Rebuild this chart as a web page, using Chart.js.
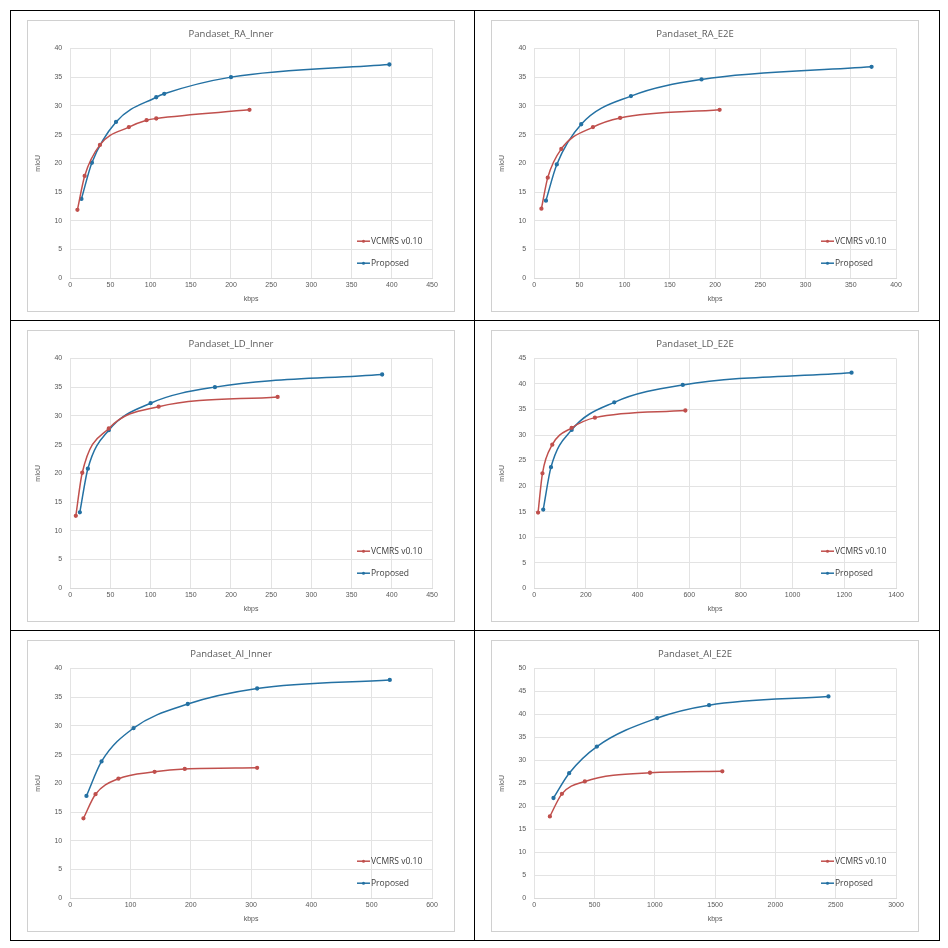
<!DOCTYPE html>
<html><head><meta charset="utf-8">
<script src="https://cdn.jsdelivr.net/npm/chart.js@4.4.1/dist/chart.umd.min.js"></script>
<style>
body{margin:0;background:#fff;font-family:"Open Sans",sans-serif}
.cell{position:absolute;border:1px solid #000;box-sizing:border-box}
.panel{position:absolute;border:1px solid #d0d0d0;box-sizing:border-box;background:#fff}
</style></head><body>
<script>
const titles=["Pandaset_RA_Inner","Pandaset_RA_E2E","Pandaset_LD_Inner","Pandaset_LD_E2E","Pandaset_AI_Inner","Pandaset_AI_E2E"];
const seriesNames=["VCMRS v0.10","Proposed"];
const xMax=[450,400,450,1400,600,3000];
const xStep=[50,50,50,200,100,500];
const yMax=[40,40,40,45,40,50];
const vcmrsX=[[9,18,37,73,95,107,223],[8,15,30,65,95,205],[7,15,48,110,258],[15,32,70,145,235,585],[22,42,80,140,190,310],[130,230,420,960,1560]];
const vcmrsY=[[11.9,17.8,23.2,26.3,27.5,27.8,29.3],[12.1,17.5,22.5,26.3,27.9,29.3],[12.6,20.1,27.8,31.6,33.3],[14.8,22.5,28.1,31.4,33.4,34.8],[13.9,18.1,20.8,22,22.5,22.7],[17.8,22.7,25.4,27.3,27.6]];
const propX=[[14,27,57,107,117,200,397],[13,25,52,107,185,373],[12,22,48,100,180,388],[35,65,145,310,575,1228],[27,52,105,195,310,530],[160,290,520,1020,1450,2440]];
const propY=[[13.8,20.1,27.2,31.5,32.1,35,37.2],[13.5,19.8,26.8,31.7,34.6,36.8],[13.2,20.8,27.5,32.2,35,37.2],[15.4,23.7,31,36.4,39.8,42.2],[17.8,23.8,29.6,33.8,36.5,38],[21.8,27.2,33,39.2,42,43.9]];
const colors=["#C0504D","#2471A3"];

const legendPlugin={id:'lg',afterDraw(c){const a=c.chartArea,ctx=c.ctx;ctx.save();
 ctx.font='8.5px "Open Sans"';ctx.textBaseline='middle';
 seriesNames.forEach((n,i)=>{const y=a.bottom-(i===0?37:15),x=a.right-62;
  ctx.strokeStyle=colors[i];ctx.lineWidth=1.5;ctx.beginPath();ctx.moveTo(x-13,y);ctx.lineTo(x,y);ctx.stroke();
  ctx.fillStyle=colors[i];ctx.beginPath();ctx.arc(x-6.5,y,1.5,0,7);ctx.fill();
  ctx.fillStyle='#404040';ctx.fillText(n,x+1,y);});
 ctx.restore();}};

const cols=[10,474],rows=[10,320,630];
for(let k=0;k<6;k++){
 const cx=cols[k%2],cy=rows[Math.floor(k/2)];
 const cell=document.createElement('div');cell.className='cell';
 Object.assign(cell.style,{left:cx+'px',top:cy+'px',width:(k%2?466:465)+'px',height:'311px'});
 document.body.appendChild(cell);
 const p=document.createElement('div');p.className='panel';
 Object.assign(p.style,{left:(cx+17)+'px',top:(cy+10)+'px',width:'428px',height:'292px'});
 document.body.appendChild(p);
 const cv=document.createElement('canvas');p.appendChild(cv);
 const mk=(xs,ys)=>xs.map((x,i)=>({x,y:ys[i]}));
 new Chart(cv,{type:'scatter',data:{datasets:[
  {label:seriesNames[0],data:mk(vcmrsX[k],vcmrsY[k]),showLine:true,borderColor:colors[0],backgroundColor:colors[0],borderWidth:1.5,pointRadius:1.4,tension:0.4,cubicInterpolationMode:'monotone'},
  {label:seriesNames[1],data:mk(propX[k],propY[k]),showLine:true,borderColor:colors[1],backgroundColor:colors[1],borderWidth:1.5,pointRadius:1.4,tension:0.4,cubicInterpolationMode:'monotone'}]},
  options:{responsive:true,maintainAspectRatio:false,animation:false,
   layout:{padding:{left:2,right:22,top:2,bottom:4}},
   plugins:{legend:{display:false},tooltip:{enabled:false},
    title:{display:true,text:titles[k],color:'#595959',font:{family:'Open Sans',size:9.5,weight:'normal'},padding:{top:6,bottom:8}}},
   scales:{x:{type:'linear',min:0,max:xMax[k],ticks:{stepSize:xStep[k],color:'#595959',font:{size:7},maxRotation:0,callback:v=>String(v)},grid:{color:'#e3e3e3',drawTicks:false},border:{color:'#d9d9d9'},
     title:{display:true,text:'kbps',color:'#595959',font:{size:7},padding:{top:2}}},
    y:{min:0,max:yMax[k],ticks:{stepSize:5,color:'#595959',font:{size:7},padding:8},grid:{color:'#e3e3e3',drawTicks:false},border:{display:false},
     title:{display:true,text:'mIoU',color:'#595959',font:{size:7}}}}},
  plugins:[legendPlugin]});
}
</script></body></html>
